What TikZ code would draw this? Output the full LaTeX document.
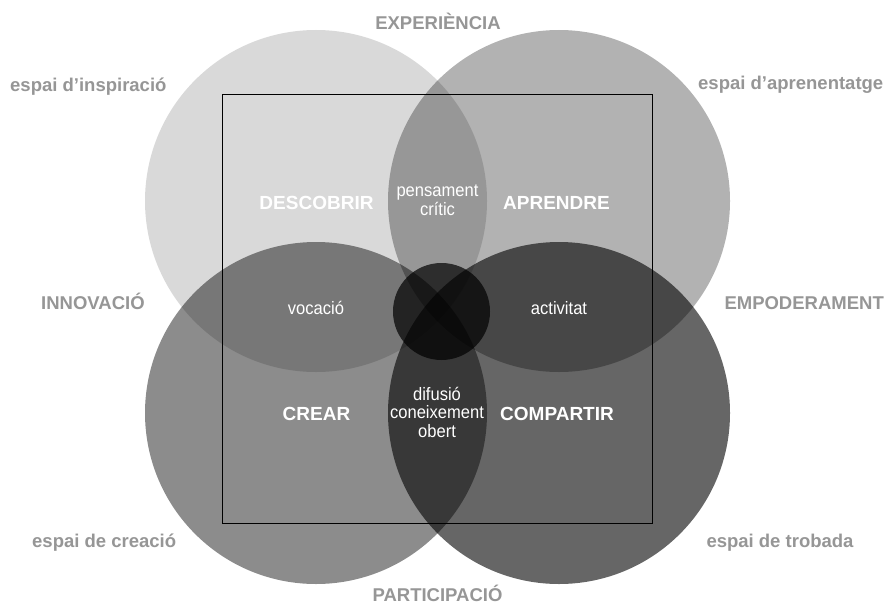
\documentclass[tikz,border=0pt]{standalone}
\usepackage{fontspec}
\setmainfont{Liberation Sans}
\newfontfamily\narrowfont{Liberation Sans}[FakeStretch=0.92]
\definecolor{lbl}{gray}{0.59}
\begin{document}
\begin{tikzpicture}[x=1pt,y=-1pt,
  outer/.style={font=\fontsize{18.5}{20}\selectfont\bfseries, text=lbl, inner sep=0pt},
  keyword/.style={font=\fontsize{19}{21}\selectfont\bfseries, text=white, inner sep=0pt},
  inlabel/.style={font=\fontsize{18}{18.5}\selectfont\narrowfont, text=white, inner sep=0pt, align=center},
  disc/.style={fill=black, draw=none}]
\useasboundingbox (0,0) rectangle (890,604);
\fill[white] (0,0) rectangle (890,604);
% circles
\path[disc, fill opacity=0.15] (316,201) circle[radius=171];
\path[disc, fill opacity=0.30] (559,201) circle[radius=171];
\path[disc, fill opacity=0.45] (316,413) circle[radius=171];
\path[disc, fill opacity=0.60] (559,413) circle[radius=171];
\path[disc, fill opacity=0.70] (441.5,311.5) circle[radius=48.5];
% frame
\draw[line width=0.9pt] (222,94) rectangle (652,523);
% outer labels
\node[outer, anchor=base] (exp) at (438,29.5) {EXPERIÈNCIA};
\node[outer, anchor=base west] (insp) at (10,92) {espai d’inspiració};
\node[outer, anchor=base west] (apren) at (698,90) {espai d’aprenentatge};
\node[outer, anchor=base west] (innov) at (41,309) {INNOVACIÓ};
\node[outer, anchor=base east] (empod) at (884,309) {EMPODERAMENT};
\node[outer, anchor=base west] (creac) at (32,547) {espai de creació};
\node[outer, anchor=base] (trob) at (780,547) {espai de trobada};
\node[outer, anchor=base] (part) at (437.5,601) {PARTICIPACIÓ};
% inner labels
\node[keyword, anchor=base] (desc) at (316.5,209) {DESCOBRIR};
\node[keyword, anchor=base] (aprd) at (556.5,209) {APRENDRE};
\node[keyword, anchor=base] (crear) at (316.5,420) {CREAR};
\node[keyword, anchor=base] (comp) at (557,420) {COMPARTIR};
\node[inlabel, anchor=base] (pens) at (437.5,215) {pensament\\crític};
\node[inlabel, anchor=base] (voc) at (316,314) {vocació};
\node[inlabel, anchor=base] (act) at (559,314) {activitat};
\node[inlabel, anchor=base] (dif) at (437,437) {difusió\\coneixement\\obert};
\end{tikzpicture}
\end{document}
